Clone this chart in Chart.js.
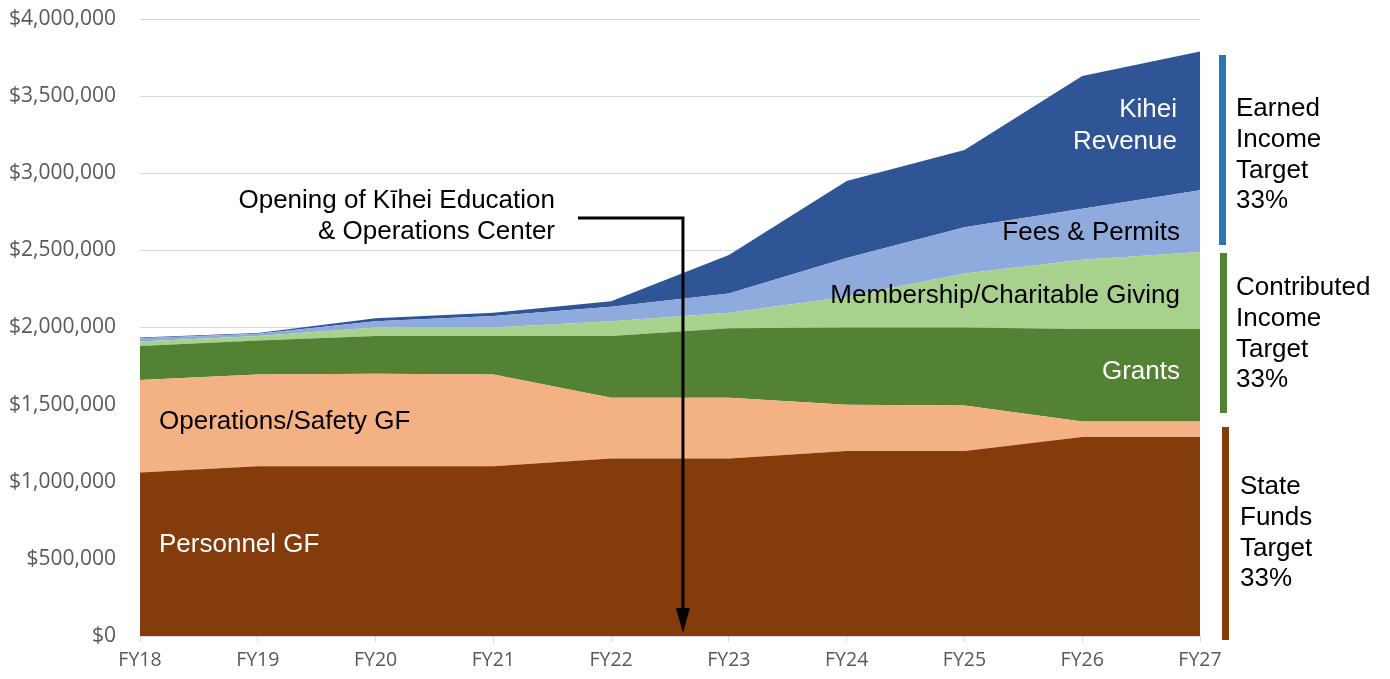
<!DOCTYPE html>
<html>
<head>
<meta charset="utf-8">
<script src="https://cdn.jsdelivr.net/npm/chart.js@4.4.1/dist/chart.umd.min.js"></script>
<style>
  html, body { margin: 0; padding: 0; background: #fff; }
  #wrap { width: 1390px; height: 679px; position: relative; }
</style>
</head>
<body>
<div id="wrap"><canvas id="grafico"></canvas></div>
<script>
// dados (US$)
const anos = ['FY18', 'FY19', 'FY20', 'FY21', 'FY22', 'FY23', 'FY24', 'FY25', 'FY26', 'FY27'];
const personnelGF = [1060000, 1100000, 1100000, 1100000, 1150000, 1150000, 1200000, 1200000, 1290000, 1290000];
const operationsGF = [600000, 595000, 600000, 595000, 395000, 395000, 300000, 295000, 100000, 100000];
const grants = [220000, 220000, 245000, 250000, 400000, 450000, 500000, 505000, 600000, 600000];
const membership = [30000, 30000, 55000, 55000, 95000, 100000, 200000, 350000, 450000, 500000];
const feesPermits = [20000, 15000, 40000, 75000, 95000, 125000, 250000, 300000, 330000, 400000];
const kiheiRevenue = [5000, 5000, 20000, 20000, 35000, 250000, 500000, 500000, 860000, 900000];
const ticksY = [0, 500000, 1000000, 1500000, 2000000, 2500000, 3000000, 3500000, 4000000];

const fonteTexto = '26px "Liberation Sans", Arial, sans-serif';

function serie(label, data, cor, fill) {
  return {
    label: label,
    data: data,
    backgroundColor: cor,
    borderColor: cor,
    borderWidth: 0,
    pointRadius: 0,
    tension: 0,
    fill: fill
  };
}

// textos e seta desenhados por cima do gráfico
const anotacoes = {
  id: 'anotacoes',
  afterDatasetsDraw(chart) {
    const ctx = chart.ctx;
    const x = chart.scales.x;
    ctx.save();
    ctx.font = fonteTexto;
    ctx.textBaseline = 'middle';

    const escreve = (txt, px, py, cor, alinh) => {
      ctx.fillStyle = cor;
      ctx.textAlign = alinh;
      ctx.fillText(txt, px, py);
    };

    escreve('Personnel GF', 159, 545, '#ffffff', 'left');
    escreve('Operations/Safety GF', 159, 422, '#000000', 'left');
    escreve('Grants', 1180, 372, '#ffffff', 'right');
    escreve('Membership/Charitable Giving', 1180, 296, '#000000', 'right');
    escreve('Fees & Permits', 1180, 233, '#000000', 'right');
    escreve('Kihei', 1177, 110, '#ffffff', 'right');
    escreve('Revenue', 1177, 142, '#ffffff', 'right');

    escreve('Opening of Kīhei Education', 555, 201, '#000000', 'right');
    escreve('& Operations Center', 555, 232, '#000000', 'right');

    // seta
    const xs = x.getPixelForValue(4.61);
    const base = chart.scales.y.getPixelForValue(0);
    ctx.strokeStyle = '#000';
    ctx.lineWidth = 3;
    ctx.beginPath();
    ctx.moveTo(578, 218);
    ctx.lineTo(xs, 218);
    ctx.lineTo(xs, base - 26);
    ctx.stroke();
    ctx.fillStyle = '#000';
    ctx.beginPath();
    ctx.moveTo(xs - 7, base - 28);
    ctx.lineTo(xs + 7, base - 28);
    ctx.lineTo(xs, base - 3);
    ctx.closePath();
    ctx.fill();

    // barras de meta à direita
    ctx.fillStyle = '#2E75B6';
    ctx.fillRect(1219, 55, 7, 190);
    ctx.fillStyle = '#548235';
    ctx.fillRect(1220, 253, 7, 160);
    ctx.fillStyle = '#843C0C';
    ctx.fillRect(1222, 427, 7, 213);

    const bloco = (linhas, px, py0) => {
      linhas.forEach((l, i) => escreve(l, px, py0 + i * 30.7, '#000000', 'left'));
    };
    bloco(['Earned', 'Income', 'Target', '33%'], 1236, 109);
    bloco(['Contributed', 'Income', 'Target', '33%'], 1236, 288);
    bloco(['State', 'Funds', 'Target', '33%'], 1240, 487);
    ctx.restore();
  }
};

const ctx = document.getElementById('grafico').getContext('2d');
const grafico = new Chart(ctx, {
  type: 'line',
  data: {
    labels: anos,
    datasets: [
      serie('Personnel GF', personnelGF, '#843C0C', 'origin'),
      serie('Operations/Safety GF', operationsGF, '#F4B183', '-1'),
      serie('Grants', grants, '#548235', '-1'),
      serie('Membership/Charitable Giving', membership, '#A9D18E', '-1'),
      serie('Fees & Permits', feesPermits, '#8FAADC', '-1'),
      serie('Kihei Revenue', kiheiRevenue, '#2F5597', '-1')
    ]
  },
  options: {
    responsive: true,
    maintainAspectRatio: false,
    animation: false,
    layout: { padding: { top: 19, right: 190, bottom: 0, left: 0 } },
    plugins: {
      legend: { display: false },
      tooltip: { enabled: false }
    },
    scales: {
      x: {
        offset: false,
        grid: { drawOnChartArea: false, drawTicks: true, tickLength: 6, color: '#d9d9d9' },
        border: { color: '#d9d9d9', width: 1 },
        ticks: { color: '#595959', padding: 7, maxRotation: 0, font: { family: '"Open Sans", sans-serif', size: 19.5 } },
        afterFit(scale) { scale.height = 43; }
      },
      y: {
        stacked: true,
        min: 0,
        max: 4000000,
        afterBuildTicks(scale) { scale.ticks = ticksY.map(v => ({ value: v })); },
        grid: { color: '#d9d9d9', drawTicks: false },
        border: { display: false },
        ticks: {
          color: '#595959',
          padding: 24,
          font: { family: '"Open Sans", sans-serif', size: 21 },
          callback: v => '$' + Number(v).toLocaleString('en-US')
        },
        afterFit(scale) {
          scale.width = 140;
          scale.paddingTop = 0;
          scale.paddingBottom = 0;
        }
      }
    }
  },
  plugins: [anotacoes]
});
</script>
</body>
</html>
